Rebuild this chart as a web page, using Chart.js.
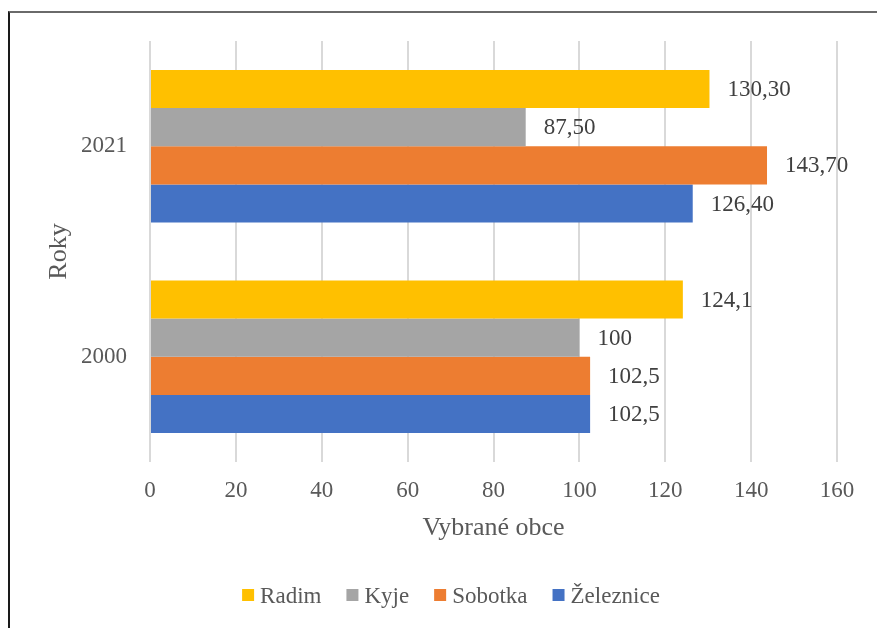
<!DOCTYPE html>
<html>
<head>
<meta charset="utf-8">
<script src="https://cdn.jsdelivr.net/npm/chart.js"></script>
<style>
  html, body { margin: 0; padding: 0; background: #fff; }
  #frame {
    position: absolute; left: 8px; top: 11px; width: 900px; height: 700px;
    border-left: 2px solid #1a1a1a; border-top: 2px solid #6a6a6a;
  }
  #wrap { position: absolute; left: 0; top: 0; width: 877px; height: 628px; }
</style>
</head>
<body>
<div id="frame"></div>
<div id="wrap"><canvas id="chart"></canvas></div>
<script>
// categories (top to bottom)
const years = ['2021', '2000']

// series values
const radim = [130.3, 124.1]
const kyje = [87.5, 100]
const sobotka = [143.7, 102.5]
const zeleznice = [126.4, 102.5]

// value labels as printed on the chart
const radimText = ['130,30', '124,1']
const kyjeText = ['87,50', '100']
const sobotkaText = ['143,70', '102,5']
const zelezniceText = ['126,40', '102,5']

const serif = 'Liberation Serif'
const gray = '#595959'

// start: value labels
const valueLabels = {
    id: 'valueLabels',
    afterDatasetsDraw(chart) {
        const ctx = chart.ctx
        ctx.save()
        ctx.font = '23px "' + serif + '"'
        ctx.fillStyle = '#404040'
        ctx.textAlign = 'left'
        ctx.textBaseline = 'middle'
        chart.data.datasets.forEach(function (ds, i) {
            chart.getDatasetMeta(i).data.forEach(function (bar, j) {
                ctx.fillText(ds.valueText[j], bar.x + 18, bar.y + 1)
            })
        })
        ctx.restore()
    }
}
// end: value labels

// start: legend (drawn by hand for Excel-like spacing)
const bottomLegend = {
    id: 'bottomLegend',
    afterDraw(chart) {
        const ctx = chart.ctx
        const box = 12, gap = 6, itemGap = 25, centerX = 451, y = 596
        ctx.save()
        ctx.font = '23px "' + serif + '"'
        ctx.textBaseline = 'middle'
        ctx.textAlign = 'left'
        const widths = chart.data.datasets.map(function (ds) {
            return box + gap + ctx.measureText(ds.label).width
        })
        let total = widths.reduce(function (a, b) { return a + b }, 0) + itemGap * (widths.length - 1)
        let x = centerX - total / 2
        chart.data.datasets.forEach(function (ds, i) {
            ctx.fillStyle = ds.backgroundColor
            ctx.fillRect(x, y - box / 2 - 1, box, box)
            ctx.fillStyle = gray
            ctx.fillText(ds.label, x + box + gap, y + 1)
            x += widths[i] + itemGap
        })
        ctx.restore()
    }
}
// end: legend

new Chart(document.getElementById('chart'), {
    type: 'bar',
    data: {
        labels: years,
        datasets: [
            { label: 'Radim', data: radim, valueText: radimText, backgroundColor: '#FFC000' },
            { label: 'Kyje', data: kyje, valueText: kyjeText, backgroundColor: '#A5A5A5' },
            { label: 'Sobotka', data: sobotka, valueText: sobotkaText, backgroundColor: '#ED7D31' },
            { label: 'Železnice', data: zeleznice, valueText: zelezniceText, backgroundColor: '#4472C4' },
        ]
    },
    options: {
        indexAxis: 'y',
        responsive: true,
        maintainAspectRatio: false,
        animation: false,
        categoryPercentage: 0.725,
        barPercentage: 1,
        layout: { padding: { top: 41, right: 40, left: 0, bottom: 84 } },
        scales: {
            x: {
                min: 0,
                max: 160,
                ticks: { stepSize: 20, color: gray, padding: 15, font: { family: serif, size: 23 } },
                grid: { color: '#d9d9d9', lineWidth: 2, drawTicks: false },
                border: { display: false },
                title: {
                    display: true, text: 'Vybrané obce', color: gray,
                    font: { family: serif, size: 26 }, padding: { top: 0, bottom: 0 }
                },
                afterFit: function (scale) { scale.height = 82 }
            },
            y: {
                ticks: { color: gray, padding: 15, font: { family: serif, size: 23 } },
                grid: { display: false },
                border: { display: false },
                title: {
                    display: true, text: 'Roky', color: gray,
                    font: { family: serif, size: 26 }, padding: { top: 44, bottom: 0 }
                },
                afterFit: function (scale) { scale.width = 150 }
            }
        },
        plugins: {
            legend: { display: false },
            tooltip: { enabled: false }
        }
    },
    plugins: [valueLabels, bottomLegend]
});
</script>
</body>
</html>
